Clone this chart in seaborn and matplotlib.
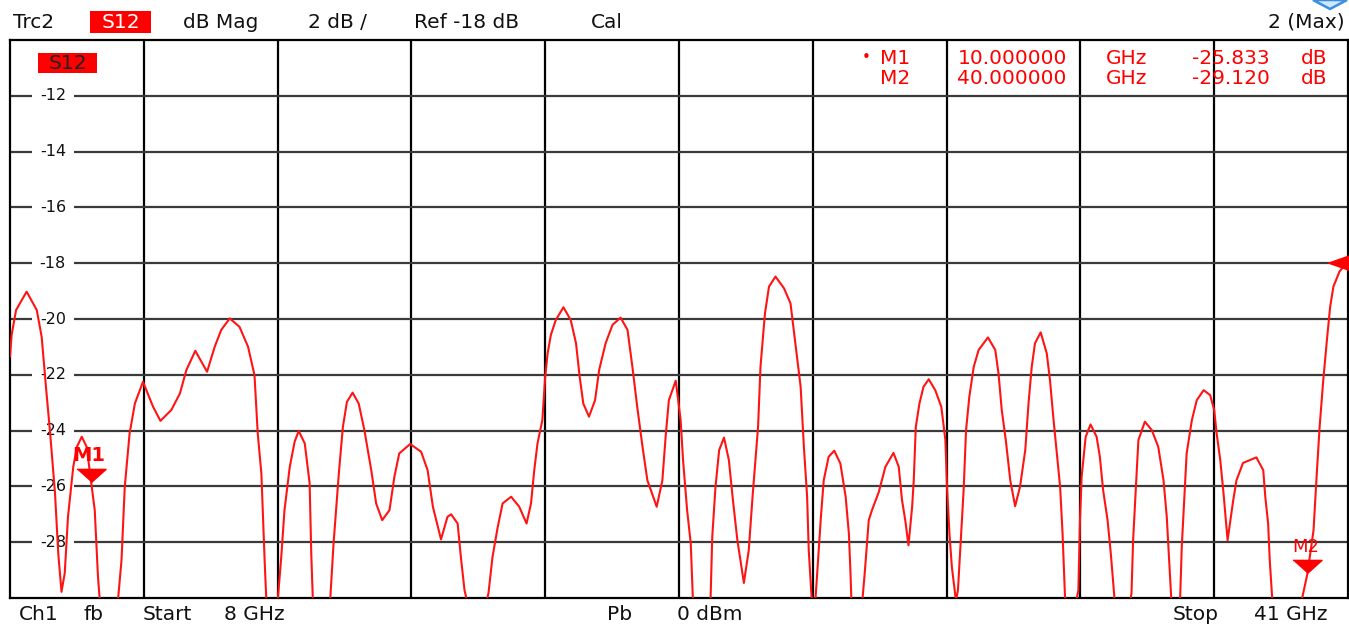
import matplotlib
matplotlib.use("Agg")
import matplotlib.pyplot as plt
import seaborn as sns
import pandas as pd
from matplotlib.patches import Polygon, Rectangle

# ---------------- data ----------------
freq_ghz = [
    8.00, 8.04, 8.15, 8.41, 8.66, 8.78, 8.90, 8.99, 9.11, 9.19, 9.27, 9.35, 9.43, 9.56, 9.65,
    9.77, 9.89, 10.00, 10.09, 10.17, 10.21, 10.40, 10.67, 10.75, 10.83, 10.95, 11.08, 11.28,
    11.53, 11.71, 11.98, 12.19, 12.35, 12.57, 12.86, 13.05, 13.21, 13.42, 13.66, 13.87, 14.03,
    14.11, 14.20, 14.28, 14.32, 14.45, 14.61, 14.69, 14.77, 14.90, 15.02, 15.12, 15.27, 15.39,
    15.43, 15.47, 15.68, 15.90, 15.98, 16.11, 16.21, 16.31, 16.45, 16.60, 16.74, 16.91, 17.03,
    17.18, 17.36, 17.48, 17.60, 17.87, 18.14, 18.30, 18.43, 18.63, 18.79, 18.88, 19.04, 19.12,
    19.21, 19.50, 19.80, 19.90, 20.03, 20.15, 20.36, 20.56, 20.74, 20.85, 20.93, 21.01, 21.13,
    21.20, 21.26, 21.34, 21.46, 21.65, 21.83, 21.96, 22.05, 22.14, 22.28, 22.43, 22.53, 22.69,
    22.86, 23.06, 23.23, 23.35, 23.47, 23.60, 23.72, 23.95, 24.09, 24.17, 24.25, 24.42, 24.54,
    24.60, 24.70, 24.79, 24.84, 25.05, 25.28, 25.32, 25.40, 25.49, 25.61, 25.73, 25.83, 25.94,
    26.10, 26.22, 26.32, 26.45, 26.51, 26.62, 26.72, 26.88, 27.09, 27.25, 27.37, 27.50, 27.58,
    27.66, 27.70, 27.77, 27.82, 27.87, 27.93, 28.00, 28.07, 28.19, 28.33, 28.48, 28.61, 28.69,
    28.73, 28.75, 28.89, 29.03, 29.08, 29.18, 29.26, 29.43, 29.59, 29.79, 29.92, 30.00, 30.08,
    30.16, 30.25, 30.29, 30.34, 30.43, 30.53, 30.66, 30.82, 30.97, 31.07, 31.11, 31.17, 31.23,
    31.30, 31.33, 31.38, 31.46, 31.52, 31.58, 31.66, 31.77, 31.89, 32.12, 32.30, 32.38, 32.46,
    32.56, 32.67, 32.79, 32.91, 33.04, 33.12, 33.20, 33.28, 33.42, 33.57, 33.65, 33.73, 33.82,
    33.90, 33.96, 34.02, 34.18, 34.35, 34.39, 34.43, 34.53, 34.65, 34.80, 34.88, 34.96, 35.07,
    35.15, 35.24, 35.45, 35.66, 35.70, 35.76, 35.83, 35.99, 36.16, 36.32, 36.45, 36.53, 36.59,
    36.64, 36.75, 36.86, 36.90, 36.97, 37.02, 37.15, 37.27, 37.44, 37.60, 37.70, 37.76, 37.85,
    37.93, 38.03, 38.17, 38.25, 38.41, 38.74, 38.91, 38.96, 39.03, 39.07, 39.13, 39.50, 39.87,
    40.00, 40.15, 40.23, 40.30, 40.39, 40.48, 40.56, 40.64, 40.79, 40.92, 41.00,
]
s12_db = [
    -21.35, -20.57, -19.68, -19.02, -19.68, -20.63, -22.65, -24.09, -26.24, -28.40, -29.78, -29.11, -27.09, -25.30, -24.58,
    -24.22, -24.58, -25.83, -26.85, -29.24, -30.00, -31.50, -29.96, -28.65, -26.02, -24.10, -23.03, -22.25,
    -23.15, -23.65, -23.26, -22.67, -21.83, -21.14, -21.89, -20.99, -20.39, -19.98, -20.28, -20.99, -22.01,
    -24.10, -25.54, -28.65, -30.00, -31.50, -29.96, -28.53, -26.85, -25.30, -24.40, -24.01, -24.46, -25.89,
    -28.40, -30.10, -31.50, -30.00, -28.05, -25.54, -23.87, -22.97, -22.64, -23.03, -23.98, -25.42, -26.61,
    -27.21, -26.85, -25.66, -24.82, -24.48, -24.76, -25.42, -26.73, -27.90, -27.09, -27.00, -27.33, -28.53,
    -29.72, -31.50, -29.84, -28.53, -27.45, -26.61, -26.37, -26.73, -27.33, -26.61, -25.42, -24.46, -23.62,
    -22.07, -21.23, -20.57, -20.04, -19.58, -20.04, -20.87, -22.07, -23.03, -23.50, -22.91, -21.83, -20.87,
    -20.21, -19.95, -20.39, -21.71, -23.15, -24.58, -25.78, -26.73, -25.78, -24.22, -22.91, -22.21, -23.62,
    -25.06, -26.85, -28.05, -29.96, -31.50, -29.96, -27.81, -26.02, -24.70, -24.25, -25.06, -26.49, -27.93,
    -29.46, -28.29, -26.25, -23.87, -21.71, -19.80, -18.84, -18.48, -18.90, -19.44, -20.87, -22.43, -24.58,
    -26.37, -28.29, -29.96, -30.60, -29.96, -28.65, -27.09, -25.78, -24.94, -24.72, -25.18, -26.37, -27.69,
    -29.12, -30.00, -31.00, -29.96, -29.12, -27.21, -26.85, -26.19, -25.30, -24.80, -25.30, -26.49, -27.21,
    -28.11, -26.73, -25.78, -23.87, -23.03, -22.43, -22.16, -22.55, -23.15, -24.34, -26.02, -27.69, -28.89,
    -29.72, -30.10, -29.72, -27.69, -26.13, -23.98, -22.79, -21.71, -21.11, -20.66, -21.11, -21.95, -23.26,
    -24.34, -25.78, -26.71, -26.02, -24.70, -23.03, -21.71, -20.87, -20.48, -21.23, -22.19, -23.50, -24.82,
    -26.02, -27.69, -29.96, -31.00, -29.72, -27.21, -25.66, -24.22, -23.78, -24.22, -24.94, -26.13, -27.21,
    -28.41, -30.00, -31.50, -29.84, -27.93, -26.25, -24.34, -23.68, -23.98, -24.58, -25.78, -27.09, -28.65,
    -30.00, -30.60, -30.00, -28.17, -26.25, -24.82, -23.62, -22.91, -22.55, -22.73, -23.26, -24.10, -25.06,
    -26.25, -27.93, -26.49, -25.78, -25.16, -24.96, -25.42, -26.37, -27.33, -28.65, -30.00, -32.00, -30.00,
    -29.12, -27.57, -25.54, -23.87, -22.19, -20.75, -19.56, -18.84, -18.30, -18.06, -18.00,
]

start_ghz, stop_ghz = 8, 41
ref_db, db_per_div = -18, 2
y_ticks = [-12, -14, -16, -18, -20, -22, -24, -26, -28]
marker_names = ["M1", "M2"]
marker_freq = [10.0, 40.0]
marker_db = [-25.833, -29.120]
readout_freq = ["10.000000", "40.000000"]
readout_val = ["-25.833", "-29.120"]

# ---------------- figure ----------------
sns.set_theme(style="white")
plt.rcParams["font.family"] = ["DejaVu Sans"]

W, H = 1349, 625
FS = 14.5
fig = plt.figure(figsize=(W / 100, H / 100), dpi=100)
fig.patch.set_facecolor("white")
ax = fig.add_axes([10 / W, 1 - 598 / H, 1338 / W, 558 / H])
ax.set_facecolor("white")


def ftext(px, py, s, ha="center", size=FS, color="#111111", **kw):
    return fig.text(px / W, 1 - py / H, s, ha=ha, va="center", fontsize=size, color=color, **kw)


def frect(x0, y0, x1, y1, color):
    fig.patches.append(Rectangle((x0 / W, 1 - y1 / H), (x1 - x0) / W, (y1 - y0) / H,
                                 transform=fig.transFigure, fc=color, ec="none", zorder=9))


ymin = ref_db - 6 * db_per_div
ymax = ref_db + 4 * db_per_div
ax.set_xlim(start_ghz, stop_ghz)
ax.set_ylim(ymin, ymax)
ax.set_xticks([])
ax.set_yticks([])
for sp in ax.spines.values():
    sp.set_color("black")
    sp.set_linewidth(1.6)

# grid
span = stop_ghz - start_ghz
for k in range(1, 10):
    ax.axvline(start_ghz + span * k / 10, color="black", lw=1.6, zorder=1)
for v in y_ticks:
    ax.axhline(v, color="#3a3a3a", lw=1.6, zorder=1)

# y labels inside plot
for v in y_ticks:
    ax.text(0.0320, v, f"{v}", transform=ax.get_yaxis_transform(), ha="center", va="center",
            fontsize=11.5, color="#111111", zorder=3,
            bbox=dict(boxstyle="square,pad=0.5", fc="white", ec="none"))

# trace
df = pd.DataFrame({"freq": freq_ghz, "s12": s12_db})
sns.lineplot(data=df, x="freq", y="s12", ax=ax, color="#ff1414", lw=1.5,
             estimator=None, sort=False, zorder=5)
ax.set_xlabel("")
ax.set_ylabel("")

# markers
tri_down = [(-1, 0.9), (1, 0.9), (0, 0)]
for name, f, d, bold in zip(marker_names, marker_freq, marker_db, [True, False]):
    ax.plot([f], [d], marker=tri_down, markersize=21, color="#ff0000", ls="none",
            zorder=6, clip_on=False)
    ax.annotate(name, (f, d), xytext=(-2, 26), textcoords="offset pixels",
                ha="center", va="center", fontsize=14 if bold else 13,
                fontweight="bold" if bold else "normal", color="#ff0000", zorder=6)

# reference level arrow on right edge
ax.plot([stop_ghz], [ref_db], marker=[(-1, 0), (0, 0.35), (0, -0.35)], markersize=30,
        color="#ff0000", ls="none", zorder=6, clip_on=False)

# S12 label inside plot
frect(38, 53, 97, 73, "#ff0000")
ftext(67.5, 63.5, "S12", color="#222222", zorder=10)

# marker readout
for row, (name, fr, val) in enumerate(zip(marker_names, readout_freq, readout_val)):
    yy = 58 + 21 * row
    if row == 0:
        ftext(866, yy, "\u2022", size=11, color="#ff0000")
    ftext(895, yy, name, color="#ff0000")
    ftext(1012, yy, fr, color="#ff0000")
    ftext(1127, yy, "GHz", color="#ff0000")
    ftext(1231, yy, val, color="#ff0000")
    ftext(1314, yy, "dB", color="#ff0000")

# header
hy = 22
ftext(34, hy, "Trc2")
frect(90, 11, 151, 33, "#ff0000")
ftext(120.5, hy, "S12", color="white", zorder=10)
ftext(221, hy, "dB Mag")
ftext(337, hy, "2 dB /")
ftext(466, hy, "Ref -18 dB")
ftext(607, hy, "Cal")
ftext(1345, hy, "2 (Max)", ha="right")

# footer
fy = 614
ftext(39, fy, "Ch1")
ftext(94, fy, "fb")
ftext(167, fy, "Start")
ftext(254, fy, "8 GHz")
ftext(620, fy, "Pb")
ftext(710, fy, "0 dBm")
ftext(1196, fy, "Stop")
ftext(1291, fy, "41 GHz")

# small blue icon at top-right corner
icon = Polygon([(1313 / W, 1.0), (1330 / W, 1 - 9 / H), (1347 / W, 1.0)], closed=True,
               transform=fig.transFigure, fc="#cfe6ff", ec="#3a8fe0", lw=1.8)
fig.patches.append(icon)

fig.savefig("out.png", dpi=100)
